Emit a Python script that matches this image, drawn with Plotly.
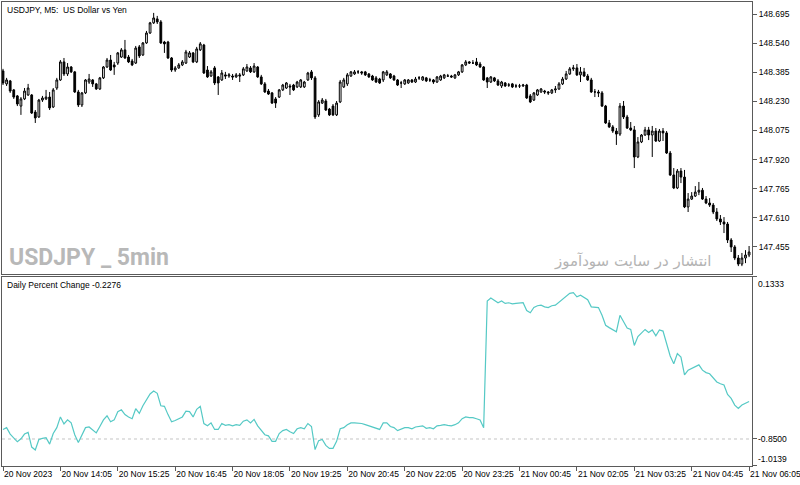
import plotly.graph_objects as go

# ---------------- data (USDJPY M5, 20 Nov 12:45 -> 21 Nov 06:05) ----------------
bar_index = list(range(209))

open_ = [148.392,148.323,148.339,148.291,148.259,148.205,148.243,148.264,148.264,148.173,
148.147,148.237,148.243,148.253,148.200,148.301,148.344,148.440,148.376,148.413,
148.387,148.280,148.211,148.275,148.333,148.344,148.323,148.296,148.355,148.413,
148.450,148.424,148.434,148.466,148.504,148.466,148.445,148.434,148.520,148.477,
148.541,148.594,148.648,148.669,148.653,148.546,148.546,148.461,148.397,148.408,
148.424,148.434,148.466,148.488,148.440,148.504,148.530,148.397,148.365,148.408,
148.360,148.344,148.371,148.365,148.365,148.360,148.371,148.371,148.392,148.408,
148.387,148.413,148.360,148.323,148.285,148.275,148.243,148.253,148.291,148.301,
148.312,148.317,148.307,148.307,148.307,148.344,148.387,148.355,148.158,148.221,
148.232,148.189,148.205,148.158,148.227,148.307,148.323,148.365,148.376,148.387,
148.387,148.387,148.376,148.365,148.355,148.349,148.344,148.371,148.376,148.365,
148.344,148.328,148.323,148.328,148.344,148.333,148.355,148.344,148.355,148.344,
148.344,148.333,148.344,148.355,148.365,148.365,148.355,148.371,148.387,148.424,
148.440,148.434,148.440,148.429,148.413,148.355,148.333,148.355,148.339,148.312,
148.328,148.317,148.323,148.312,148.312,148.312,148.317,148.259,148.237,148.264,
148.280,148.285,148.280,148.275,148.291,148.296,148.323,148.349,148.376,148.403,
148.408,148.371,148.387,148.365,148.344,148.280,148.280,148.275,148.205,148.115,
148.094,148.072,148.056,148.205,148.147,148.088,148.078,147.934,148.014,148.051,
148.078,148.051,148.072,148.019,148.072,148.062,147.955,147.838,147.769,147.859,
147.827,147.668,147.710,147.726,147.747,147.757,147.710,147.689,147.678,147.641,
147.604,147.588,147.577,147.492,147.455,147.396,147.364,147.396,147.412]

high = [148.403,148.355,148.344,148.296,148.264,148.253,148.301,148.323,148.269,148.184,
148.243,148.259,148.291,148.280,148.301,148.355,148.450,148.461,148.434,148.418,
148.392,148.291,148.280,148.349,148.376,148.349,148.328,148.360,148.418,148.461,
148.477,148.440,148.493,148.514,148.557,148.477,148.456,148.525,148.530,148.546,
148.605,148.653,148.701,148.685,148.663,148.552,148.552,148.466,148.418,148.434,
148.450,148.504,148.498,148.493,148.520,148.546,148.536,148.418,148.397,148.418,
148.365,148.397,148.387,148.381,148.376,148.381,148.381,148.413,148.429,148.418,
148.434,148.418,148.371,148.333,148.296,148.280,148.253,148.296,148.323,148.333,
148.323,148.323,148.339,148.349,148.339,148.387,148.397,148.365,148.237,148.248,
148.243,148.195,148.216,148.232,148.344,148.355,148.381,148.392,148.397,148.397,
148.392,148.392,148.381,148.371,148.365,148.355,148.392,148.397,148.381,148.371,
148.349,148.339,148.349,148.349,148.349,148.360,148.365,148.365,148.360,148.355,
148.349,148.365,148.371,148.376,148.376,148.371,148.376,148.392,148.429,148.450,
148.445,148.450,148.461,148.440,148.418,148.360,148.365,148.360,148.349,148.339,
148.333,148.328,148.328,148.323,148.323,148.323,148.323,148.269,148.280,148.296,
148.301,148.291,148.285,148.296,148.312,148.333,148.360,148.392,148.413,148.424,
148.429,148.413,148.408,148.376,148.355,148.296,148.291,148.285,148.211,148.131,
148.104,148.088,148.221,148.232,148.158,148.120,148.099,148.040,148.056,148.094,
148.094,148.099,148.088,148.083,148.088,148.072,147.966,147.875,147.870,147.875,
147.865,147.742,147.747,147.779,147.801,147.769,147.726,147.715,147.689,147.662,
147.625,147.614,147.588,147.502,147.465,147.412,147.423,147.438,147.460]

low = [148.317,148.312,148.275,148.243,148.205,148.158,148.237,148.259,148.163,148.115,
148.142,148.227,148.237,148.184,148.195,148.291,148.339,148.365,148.365,148.381,
148.275,148.200,148.200,148.269,148.323,148.307,148.291,148.291,148.349,148.408,
148.392,148.371,148.424,148.461,148.456,148.434,148.418,148.429,148.461,148.472,
148.536,148.589,148.642,148.642,148.536,148.488,148.456,148.387,148.387,148.403,
148.418,148.429,148.461,148.434,148.434,148.498,148.376,148.355,148.360,148.317,
148.264,148.339,148.349,148.355,148.344,148.355,148.333,148.365,148.387,148.381,
148.381,148.355,148.317,148.275,148.264,148.216,148.195,148.248,148.285,148.296,
148.264,148.285,148.301,148.301,148.301,148.339,148.344,148.136,148.147,148.216,
148.179,148.152,148.152,148.152,148.221,148.301,148.312,148.360,148.371,148.376,
148.371,148.365,148.355,148.339,148.328,148.323,148.333,148.365,148.349,148.339,
148.312,148.301,148.317,148.323,148.328,148.328,148.344,148.339,148.333,148.333,
148.323,148.328,148.339,148.349,148.360,148.355,148.349,148.365,148.381,148.418,
148.429,148.429,148.418,148.408,148.339,148.301,148.328,148.333,148.312,148.301,
148.307,148.307,148.301,148.301,148.301,148.307,148.243,148.221,148.232,148.259,
148.275,148.269,148.264,148.269,148.275,148.291,148.317,148.344,148.371,148.392,
148.365,148.333,148.360,148.339,148.275,148.253,148.253,148.200,148.110,148.088,
148.062,147.998,148.046,148.136,148.083,148.072,147.875,147.928,148.008,148.046,
148.024,147.934,148.014,148.014,148.019,147.950,147.833,147.763,147.763,147.795,
147.662,147.641,147.705,147.721,147.731,147.705,147.683,147.668,147.630,147.593,
147.572,147.529,147.476,147.428,147.385,147.353,147.353,147.369,147.401]

close = [148.328,148.344,148.285,148.253,148.216,148.243,148.285,148.301,148.168,148.142,
148.237,148.248,148.253,148.195,148.291,148.344,148.440,148.376,148.413,148.387,
148.280,148.211,148.275,148.344,148.349,148.323,148.296,148.355,148.413,148.450,
148.397,148.413,148.488,148.504,148.461,148.440,148.424,148.514,148.472,148.541,
148.594,148.648,148.674,148.653,148.541,148.536,148.461,148.397,148.408,148.424,
148.440,148.493,148.488,148.440,148.509,148.536,148.381,148.360,148.387,148.328,
148.328,148.381,148.365,148.371,148.360,148.371,148.365,148.403,148.413,148.387,
148.418,148.360,148.323,148.280,148.269,148.221,148.221,148.291,148.317,148.328,
148.307,148.291,148.333,148.344,148.333,148.381,148.355,148.147,148.227,148.237,
148.184,148.158,148.158,148.221,148.333,148.344,148.371,148.387,148.387,148.387,
148.381,148.371,148.360,148.344,148.333,148.328,148.387,148.387,148.355,148.344,
148.317,148.328,148.344,148.344,148.333,148.349,148.355,148.360,148.339,148.344,
148.333,148.360,148.365,148.371,148.365,148.360,148.371,148.387,148.424,148.440,
148.434,148.434,148.424,148.413,148.344,148.333,148.360,148.339,148.317,148.333,
148.312,148.317,148.307,148.312,148.312,148.317,148.248,148.227,148.275,148.291,
148.296,148.280,148.275,148.291,148.296,148.323,148.349,148.376,148.403,148.408,
148.371,148.387,148.365,148.344,148.280,148.280,148.275,148.205,148.115,148.094,
148.072,148.056,148.205,148.147,148.088,148.078,147.934,148.014,148.051,148.078,
148.051,148.072,148.019,148.072,148.062,147.955,147.838,147.769,147.859,147.827,
147.668,147.710,147.726,147.747,147.757,147.710,147.689,147.678,147.641,147.604,
147.588,147.577,147.492,147.455,147.396,147.364,147.396,147.412,147.428]

daily_pct = [-0.792,-0.781,-0.820,-0.842,-0.867,-0.849,-0.820,-0.810,-0.899,-0.917,
-0.853,-0.846,-0.842,-0.881,-0.817,-0.781,-0.716,-0.759,-0.734,-0.752,
-0.824,-0.871,-0.828,-0.781,-0.777,-0.795,-0.813,-0.774,-0.734,-0.709,
-0.745,-0.734,-0.684,-0.673,-0.702,-0.716,-0.727,-0.666,-0.695,-0.648,
-0.612,-0.577,-0.559,-0.573,-0.648,-0.652,-0.702,-0.745,-0.738,-0.727,
-0.716,-0.681,-0.684,-0.716,-0.670,-0.652,-0.756,-0.770,-0.752,-0.792,
-0.792,-0.756,-0.767,-0.763,-0.770,-0.763,-0.767,-0.742,-0.734,-0.752,
-0.731,-0.770,-0.795,-0.824,-0.831,-0.864,-0.864,-0.817,-0.799,-0.792,
-0.806,-0.817,-0.788,-0.781,-0.788,-0.756,-0.774,-0.914,-0.860,-0.853,
-0.889,-0.907,-0.907,-0.864,-0.788,-0.781,-0.763,-0.752,-0.752,-0.752,
-0.756,-0.763,-0.770,-0.781,-0.788,-0.792,-0.752,-0.752,-0.774,-0.781,
-0.799,-0.792,-0.781,-0.781,-0.788,-0.777,-0.774,-0.770,-0.785,-0.781,
-0.788,-0.770,-0.767,-0.763,-0.767,-0.770,-0.763,-0.752,-0.727,-0.716,
-0.720,-0.720,-0.727,-0.734,-0.781,-0.012,0.006,-0.009,-0.023,-0.012,
-0.027,-0.023,-0.030,-0.027,-0.027,-0.023,-0.070,-0.084,-0.052,-0.041,
-0.038,-0.048,-0.052,-0.041,-0.038,-0.020,-0.002,0.016,0.034,0.038,
0.013,0.023,0.009,-0.005,-0.048,-0.048,-0.052,-0.099,-0.160,-0.174,
-0.188,-0.199,-0.099,-0.138,-0.177,-0.185,-0.282,-0.228,-0.203,-0.185,
-0.203,-0.188,-0.224,-0.188,-0.195,-0.267,-0.346,-0.393,-0.332,-0.353,
-0.461,-0.432,-0.421,-0.407,-0.400,-0.432,-0.447,-0.454,-0.479,-0.504,
-0.515,-0.522,-0.579,-0.604,-0.644,-0.665,-0.644,-0.633,-0.622]

time_tick_bars = [0, 16, 32, 48, 64, 80, 96, 112, 128, 144, 160, 176, 192, 208]
time_tick_labels = ["20 Nov 2023", "20 Nov 14:05", "20 Nov 15:25", "20 Nov 16:45",
                    "20 Nov 18:05", "20 Nov 19:25", "20 Nov 20:45", "20 Nov 22:05",
                    "20 Nov 23:25", "21 Nov 00:45", "21 Nov 02:05", "21 Nov 03:25",
                    "21 Nov 04:45", "21 Nov 06:05"]
price_ticks = [148.695, 148.540, 148.385, 148.230, 148.075, 147.920, 147.765, 147.610, 147.455]
pct_ticks = [0.1333, -0.8500, -1.0139]
level_value = -0.85

# ---------------- figure ----------------
FONT = "Liberation Sans, Arial, DejaVu Sans, sans-serif"
AX = "#5a5a5a"

fig = go.Figure()

fig.add_trace(go.Candlestick(
    x=bar_index, open=open_, high=high, low=low, close=close,
    xaxis="x2", yaxis="y2",
    increasing=dict(fillcolor="#ffffff", line=dict(color="#000000", width=1)),
    decreasing=dict(fillcolor="#000000", line=dict(color="#000000", width=1)),
    whiskerwidth=0, showlegend=False, hoverinfo="skip",
))

fig.add_trace(go.Scatter(
    x=bar_index, y=daily_pct, mode="lines", xaxis="x", yaxis="y",
    line=dict(color="#55c9c5", width=1.2), showlegend=False, hoverinfo="skip",
))

x_range = [-0.28, 208.81]

fig.update_layout(
    width=800, height=485,
    margin=dict(l=2, r=48, t=2, b=19, autoexpand=False),
    paper_bgcolor="#ffffff", plot_bgcolor="#ffffff",
    font=dict(family=FONT, size=8.5, color="#000000"),
    xaxis=dict(
        domain=[0, 1], anchor="y", range=x_range, automargin=False,
        tickmode="array", tickvals=time_tick_bars, ticktext=time_tick_labels,
        tickangle=0,
        ticks="outside", ticklen=4, tickcolor=AX, tickwidth=1,
        ticklabelposition="outside right", ticklabeloverflow="allow",
        tickfont=dict(family=FONT, size=8.5, color="#000000"),
        showline=True, linecolor=AX, linewidth=1, mirror=True,
        showgrid=False, zeroline=False, fixedrange=True,
    ),
    xaxis2=dict(
        domain=[0, 1], anchor="y2", range=x_range, matches="x", automargin=False,
        showticklabels=False, ticks="",
        showline=True, linecolor=AX, linewidth=1, mirror=True,
        showgrid=False, zeroline=False,
        rangeslider=dict(visible=False),
    ),
    yaxis=dict(
        domain=[0, 0.40733], anchor="x", range=[-1.0139, 0.1333], automargin=False,
        side="right", tickmode="array", tickvals=pct_ticks,
        ticks="outside", ticklen=4, tickcolor=AX, showticklabels=False,
        showline=True, linecolor=AX, linewidth=1, mirror=True,
        showgrid=False, zeroline=False,
    ),
    yaxis2=dict(
        domain=[0.41379, 1], anchor="x2", range=[147.311, 148.759], automargin=False,
        side="right", tickmode="array", tickvals=price_ticks,
        ticktext=[f"{v:.3f}" for v in price_ticks],
        ticks="outside", ticklen=4, tickcolor=AX,
        tickfont=dict(family=FONT, size=8.5, color="#000000"),
        showline=True, linecolor=AX, linewidth=1, mirror=True,
        showgrid=False, zeroline=False,
    ),
    shapes=[dict(type="line", xref="paper", x0=0, x1=1, yref="y",
                 y0=level_value, y1=level_value,
                 line=dict(color="#c4c4c4", width=1, dash="3px,3px"), layer="below")],
)

annotations = [
    dict(text="USDJPY, M5:\u00a0 US Dollar vs Yen", xref="paper", yref="paper",
         x=0.004, y=1, xanchor="left", yanchor="top", yshift=-1, showarrow=False,
         font=dict(family=FONT, size=8.5, color="#000000")),
    dict(text="Daily Percent Change -0.2276", xref="paper", yref="paper",
         x=0.004, y=0.40733, xanchor="left", yanchor="top", yshift=-1, showarrow=False,
         font=dict(family=FONT, size=8.5, color="#000000")),
    dict(text="<b>USDJPY _ 5min</b>", xref="paper", yref="paper",
         x=0.006, y=0.41379, xanchor="left", yanchor="bottom", yshift=1, showarrow=False,
         font=dict(family="Roboto, Liberation Sans, sans-serif", size=23, color="#b8b8b8")),
    dict(text="انتشار در سایت سودآموز", xref="paper", yref="paper",
         x=0.949, y=0.41379, xanchor="right", yanchor="bottom", yshift=2, showarrow=False,
         font=dict(family="DejaVu Sans, Noto Sans, sans-serif", size=15, color="#b4b4b4")),
    dict(text="0.1333", xref="paper", yref="y", x=1, y=pct_ticks[0], xanchor="left",
         yanchor="top", xshift=4, showarrow=False,
         font=dict(family=FONT, size=8.5, color="#000000")),
    dict(text="-0.8500", xref="paper", yref="y", x=1, y=pct_ticks[1], xanchor="left",
         yanchor="middle", xshift=4, showarrow=False,
         font=dict(family=FONT, size=8.5, color="#000000")),
    dict(text="-1.0139", xref="paper", yref="y", x=1, y=pct_ticks[2], xanchor="left",
         yanchor="bottom", xshift=4, showarrow=False,
         font=dict(family=FONT, size=8.5, color="#000000")),
]
fig.update_layout(annotations=annotations)

fig.write_html("out.html", config={"displayModeBar": False, "staticPlot": True})
